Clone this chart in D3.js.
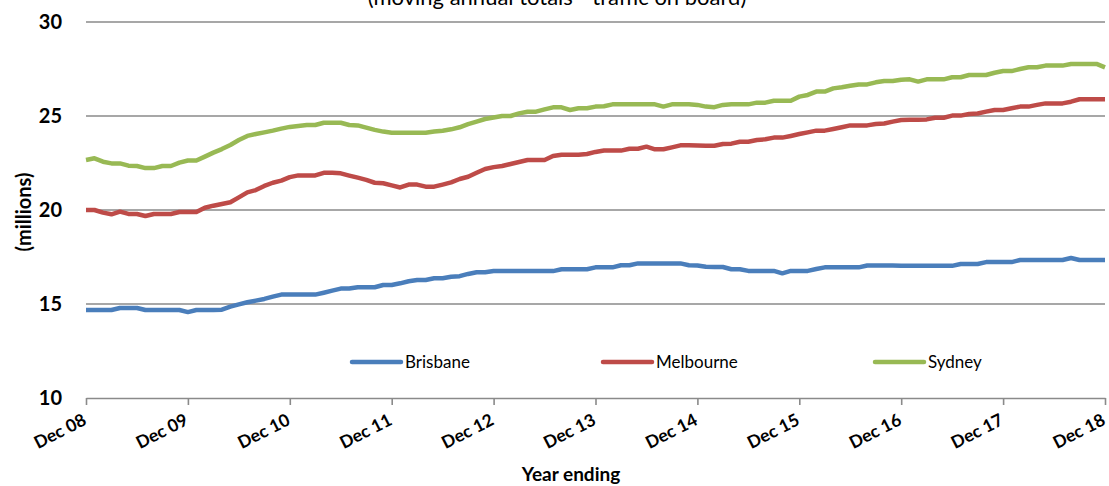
<!DOCTYPE html>
<html>
<head>
<meta charset="utf-8">
<script src="https://cdn.jsdelivr.net/npm/d3@7"></script>
<style>
  body { margin: 0; background: #fff; }
  svg { display: block; }
  text { font-family: Lato, "Liberation Sans", sans-serif; fill: #000; }
</style>
</head>
<body>
<div class="plot"></div>
<script>
// Data (monthly moving annual totals, millions)
const tickLabels = ["Dec 08", "Dec 09", "Dec 10", "Dec 11", "Dec 12", "Dec 13", "Dec 14", "Dec 15", "Dec 16", "Dec 17", "Dec 18"];
const seriesNames = ["Brisbane", "Melbourne", "Sydney"];
const seriesColors = ["#4a7ebb", "#be4b48", "#98b954"];

const brisbane = [
  14.68, 14.68, 14.68, 14.68, 14.79, 14.79, 14.79, 14.68, 14.68, 14.68, 14.68, 14.68,
  14.57, 14.68, 14.68, 14.68, 14.70, 14.86, 14.98, 15.09, 15.18, 15.27, 15.39, 15.50,
  15.50, 15.50, 15.50, 15.50, 15.60, 15.71, 15.82, 15.82, 15.89, 15.89, 15.89, 16.01,
  16.01, 16.10, 16.21, 16.28, 16.28, 16.37, 16.37, 16.45, 16.48, 16.60, 16.69, 16.69,
  16.75, 16.75, 16.75, 16.75, 16.75, 16.75, 16.75, 16.75, 16.85, 16.85, 16.85, 16.85,
  16.95, 16.95, 16.95, 17.06, 17.06, 17.16, 17.16, 17.16, 17.16, 17.16, 17.16, 17.06,
  17.05, 16.98, 16.97, 16.97, 16.85, 16.85, 16.76, 16.76, 16.76, 16.76, 16.63, 16.76,
  16.76, 16.76, 16.86, 16.95, 16.95, 16.95, 16.95, 16.95, 17.05, 17.05, 17.05, 17.05,
  17.03, 17.03, 17.03, 17.03, 17.03, 17.03, 17.03, 17.13, 17.13, 17.13, 17.23, 17.23,
  17.23, 17.23, 17.34, 17.34, 17.34, 17.34, 17.34, 17.34, 17.45, 17.34, 17.34, 17.34,
  17.34
];

const melbourne = [
  20.00, 20.00, 19.86, 19.77, 19.91, 19.79, 19.79, 19.68, 19.79, 19.79, 19.79, 19.89,
  19.89, 19.89, 20.12, 20.23, 20.32, 20.41, 20.67, 20.94, 21.06, 21.28, 21.45, 21.56,
  21.75, 21.84, 21.84, 21.84, 21.98, 21.98, 21.95, 21.83, 21.72, 21.60, 21.45, 21.42,
  21.31, 21.20, 21.35, 21.35, 21.24, 21.24, 21.35, 21.47, 21.65, 21.77, 21.98, 22.18,
  22.28, 22.34, 22.45, 22.55, 22.66, 22.66, 22.66, 22.87, 22.94, 22.94, 22.94, 22.98,
  23.09, 23.16, 23.16, 23.16, 23.26, 23.26, 23.37, 23.23, 23.23, 23.33, 23.44, 23.44,
  23.43, 23.42, 23.42, 23.51, 23.53, 23.63, 23.63, 23.72, 23.76, 23.85, 23.85, 23.94,
  24.04, 24.13, 24.22, 24.22, 24.31, 24.40, 24.50, 24.50, 24.50, 24.57, 24.60, 24.70,
  24.79, 24.80, 24.80, 24.82, 24.91, 24.91, 25.02, 25.02, 25.11, 25.13, 25.23, 25.32,
  25.32, 25.41, 25.50, 25.50, 25.59, 25.67, 25.67, 25.67, 25.76, 25.89, 25.89, 25.89,
  25.89
];

const sydney = [
  22.66, 22.75, 22.57, 22.48, 22.48, 22.36, 22.34, 22.23, 22.23, 22.34, 22.34, 22.52,
  22.63, 22.63, 22.84, 23.05, 23.24, 23.46, 23.72, 23.94, 24.04, 24.13, 24.22, 24.33,
  24.42, 24.47, 24.52, 24.52, 24.64, 24.64, 24.64, 24.52, 24.50, 24.38, 24.26, 24.17,
  24.11, 24.11, 24.11, 24.11, 24.11, 24.17, 24.22, 24.29, 24.40, 24.57, 24.70, 24.84,
  24.92, 25.00, 25.00, 25.14, 25.23, 25.23, 25.35, 25.46, 25.46, 25.32, 25.41, 25.41,
  25.50, 25.52, 25.62, 25.62, 25.62, 25.62, 25.62, 25.62, 25.50, 25.62, 25.62, 25.62,
  25.59, 25.50, 25.47, 25.59, 25.62, 25.62, 25.62, 25.71, 25.71, 25.81, 25.81, 25.81,
  26.03, 26.12, 26.30, 26.30, 26.47, 26.53, 26.61, 26.68, 26.68, 26.79, 26.86, 26.86,
  26.93, 26.95, 26.83, 26.95, 26.95, 26.95, 27.06, 27.06, 27.18, 27.18, 27.18, 27.30,
  27.39, 27.39, 27.50, 27.59, 27.59, 27.68, 27.68, 27.68, 27.77, 27.77, 27.77, 27.77,
  27.59
];

const yTicks = [10, 15, 20, 25, 30];

const margin = {top: 22, right: 4, bottom: 88, left: 86};
const w = 1109 - margin.left - margin.right;
const h = 486 - margin.top - margin.bottom;

const svg = d3.select(".plot")
    .append("svg")
        .attr("width", 1109)
        .attr("height", 486);

const g = svg.append("g")
    .attr("transform", "translate(" + margin.left + "," + margin.top + ")");

// Scales
const x = d3.scaleLinear().domain([0, brisbane.length - 1]).range([0, w]);
const y = d3.scaleLinear().domain([10, 30]).range([h, 0]);

// Title (cut off at the top of the picture, as in the original)
svg.append("text")
    .attr("x", 557)
    .attr("y", 5)
    .attr("text-anchor", "middle")
    .style("font-size", "22px")
    .text("(moving annual totals - traffic on board)");

// Gridlines
g.append("g")
    .selectAll("line")
    .data(yTicks.filter(d => d > 10))
    .enter()
    .append("line")
        .attr("x1", 0)
        .attr("x2", w)
        .attr("y1", d => y(d))
        .attr("y2", d => y(d))
        .attr("stroke", "#8a8a8a")
        .attr("stroke-width", 1.6);

// Y axis labels
const yAxis = g.append("g")
    .call(d3.axisLeft(y).tickValues(yTicks).tickSize(0).tickPadding(24));
yAxis.select(".domain").remove();
yAxis.selectAll("text")
    .style("font-family", "Lato, sans-serif")
    .style("font-size", "20px")
    .style("font-weight", "bold")
    .attr("fill", "#000");

// X axis
const xAxis = g.append("g")
    .attr("transform", "translate(0," + h + ")")
    .call(d3.axisBottom(x)
        .tickValues(d3.range(0, brisbane.length, 12))
        .tickFormat((d, i) => tickLabels[i])
        .tickSize(7)
        .tickSizeOuter(0));
xAxis.select(".domain").attr("stroke", "#8a8a8a").attr("stroke-width", 1.6);
xAxis.selectAll(".tick line").attr("stroke", "#8a8a8a").attr("stroke-width", 1.6);
xAxis.selectAll("text")
    .style("font-family", "Lato, sans-serif")
    .style("font-size", "17.5px")
    .style("font-weight", "bold")
    .attr("fill", "#000")
    .attr("text-anchor", "end")
    .attr("dy", 0)
    .attr("transform", "translate(1,26) rotate(-27)")
    .attr("y", 0)
    .attr("x", 0);

// Axis titles
svg.append("text")
    .attr("transform", "translate(31,212) rotate(-90)")
    .attr("text-anchor", "middle")
    .style("font-size", "20px")
    .style("font-weight", "bold")
    .text("(millions)");

svg.append("text")
    .attr("x", 571)
    .attr("y", 481)
    .attr("text-anchor", "middle")
    .style("font-size", "19px")
    .style("font-weight", "bold")
    .text("Year ending");

// Lines
const line = d3.line()
    .x((d, i) => x(i))
    .y(d => y(d));

const allSeries = [brisbane, melbourne, sydney];
g.selectAll(".series")
    .data(allSeries)
    .enter()
    .append("path")
        .attr("class", "series")
        .attr("d", line)
        .attr("fill", "none")
        .attr("stroke", (d, i) => seriesColors[i])
        .attr("stroke-width", 4.5)
        .attr("stroke-linejoin", "round");

// Legend
const legendX = [352, 603, 875];
const legend = svg.append("g")
    .selectAll("g")
    .data(seriesNames)
    .enter()
    .append("g")
        .attr("transform", (d, i) => "translate(" + legendX[i] + ",362)");

legend.append("line")
    .attr("x1", 0)
    .attr("x2", 49)
    .attr("stroke", (d, i) => seriesColors[i])
    .attr("stroke-width", 4.5)
    .attr("stroke-linecap", "round");

legend.append("text")
    .attr("x", 53)
    .attr("y", 6)
    .style("font-size", "17px")
    .text(d => d);
</script>
</body>
</html>
